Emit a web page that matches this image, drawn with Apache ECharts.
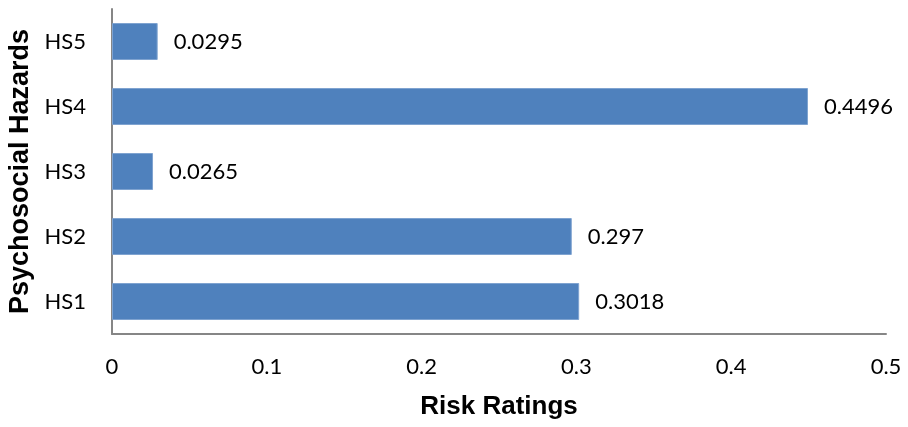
<!DOCTYPE html>
<html>
<head>
<meta charset="utf-8">
<script src="https://cdn.jsdelivr.net/npm/echarts@6/dist/echarts.min.js"></script>
<style>
  html, body { margin: 0; padding: 0; background: #ffffff; }
  #chart { width: 908px; height: 427px; }
</style>
</head>
<body>
<div id="chart"></div>
<script>
// Hazard categories, bottom to top
const categories = ['HS1', 'HS2', 'HS3', 'HS4', 'HS5'];
// Risk rating for each hazard
const riskValues = [0.3018, 0.297, 0.0265, 0.4496, 0.0295];
// Value axis range and step
const xMin = 0;
const xMax = 0.5;
const xStep = 0.1;

const labelFont = 'Lato, "Open Sans", "Liberation Sans", sans-serif';
const titleFont = '"Liberation Sans", Arial, sans-serif';

const chart = echarts.init(document.getElementById('chart'), null, { renderer: 'canvas' });
chart.setOption({
  animation: false,
  backgroundColor: '#ffffff',
  grid: {
    left: 112, right: 22, top: 9, bottom: 93,
    containLabel: false,
    outerBoundsMode: 'none'
  },
  xAxis: {
    type: 'value',
    min: xMin,
    max: xMax,
    interval: xStep,
    name: 'Risk Ratings',
    nameLocation: 'middle',
    nameGap: 60,
    nameTextStyle: { fontFamily: titleFont, fontWeight: 'bold', fontSize: 26, color: '#000' },
    axisLine: { show: true, lineStyle: { color: '#868686', width: 2 } },
    axisTick: { show: false },
    splitLine: { show: false },
    axisLabel: {
      margin: 22,
      fontFamily: labelFont,
      fontSize: 22,
      color: '#000',
      formatter: v => String(+v.toFixed(1))
    }
  },
  yAxis: {
    type: 'category',
    data: categories,
    name: 'Psychosocial Hazards',
    nameLocation: 'middle',
    nameGap: 77,
    nameRotate: 90,
    nameTextStyle: { fontFamily: titleFont, fontWeight: 'bold', fontSize: 27, color: '#000' },
    axisLine: { show: true, lineStyle: { color: '#868686', width: 2 } },
    axisTick: { show: false },
    axisLabel: {
      margin: 26,
      fontFamily: labelFont,
      fontSize: 22,
      color: '#000'
    }
  },
  series: [{
    type: 'bar',
    data: riskValues,
    barWidth: 37,
    itemStyle: { color: '#4F81BD', borderColor: '#7FA3D0', borderWidth: 1 },
    label: {
      show: true,
      position: 'right',
      distance: 16,
      fontFamily: labelFont,
      fontSize: 22,
      color: '#000',
      formatter: p => String(p.value)
    }
  }]
});
</script>
</body>
</html>
